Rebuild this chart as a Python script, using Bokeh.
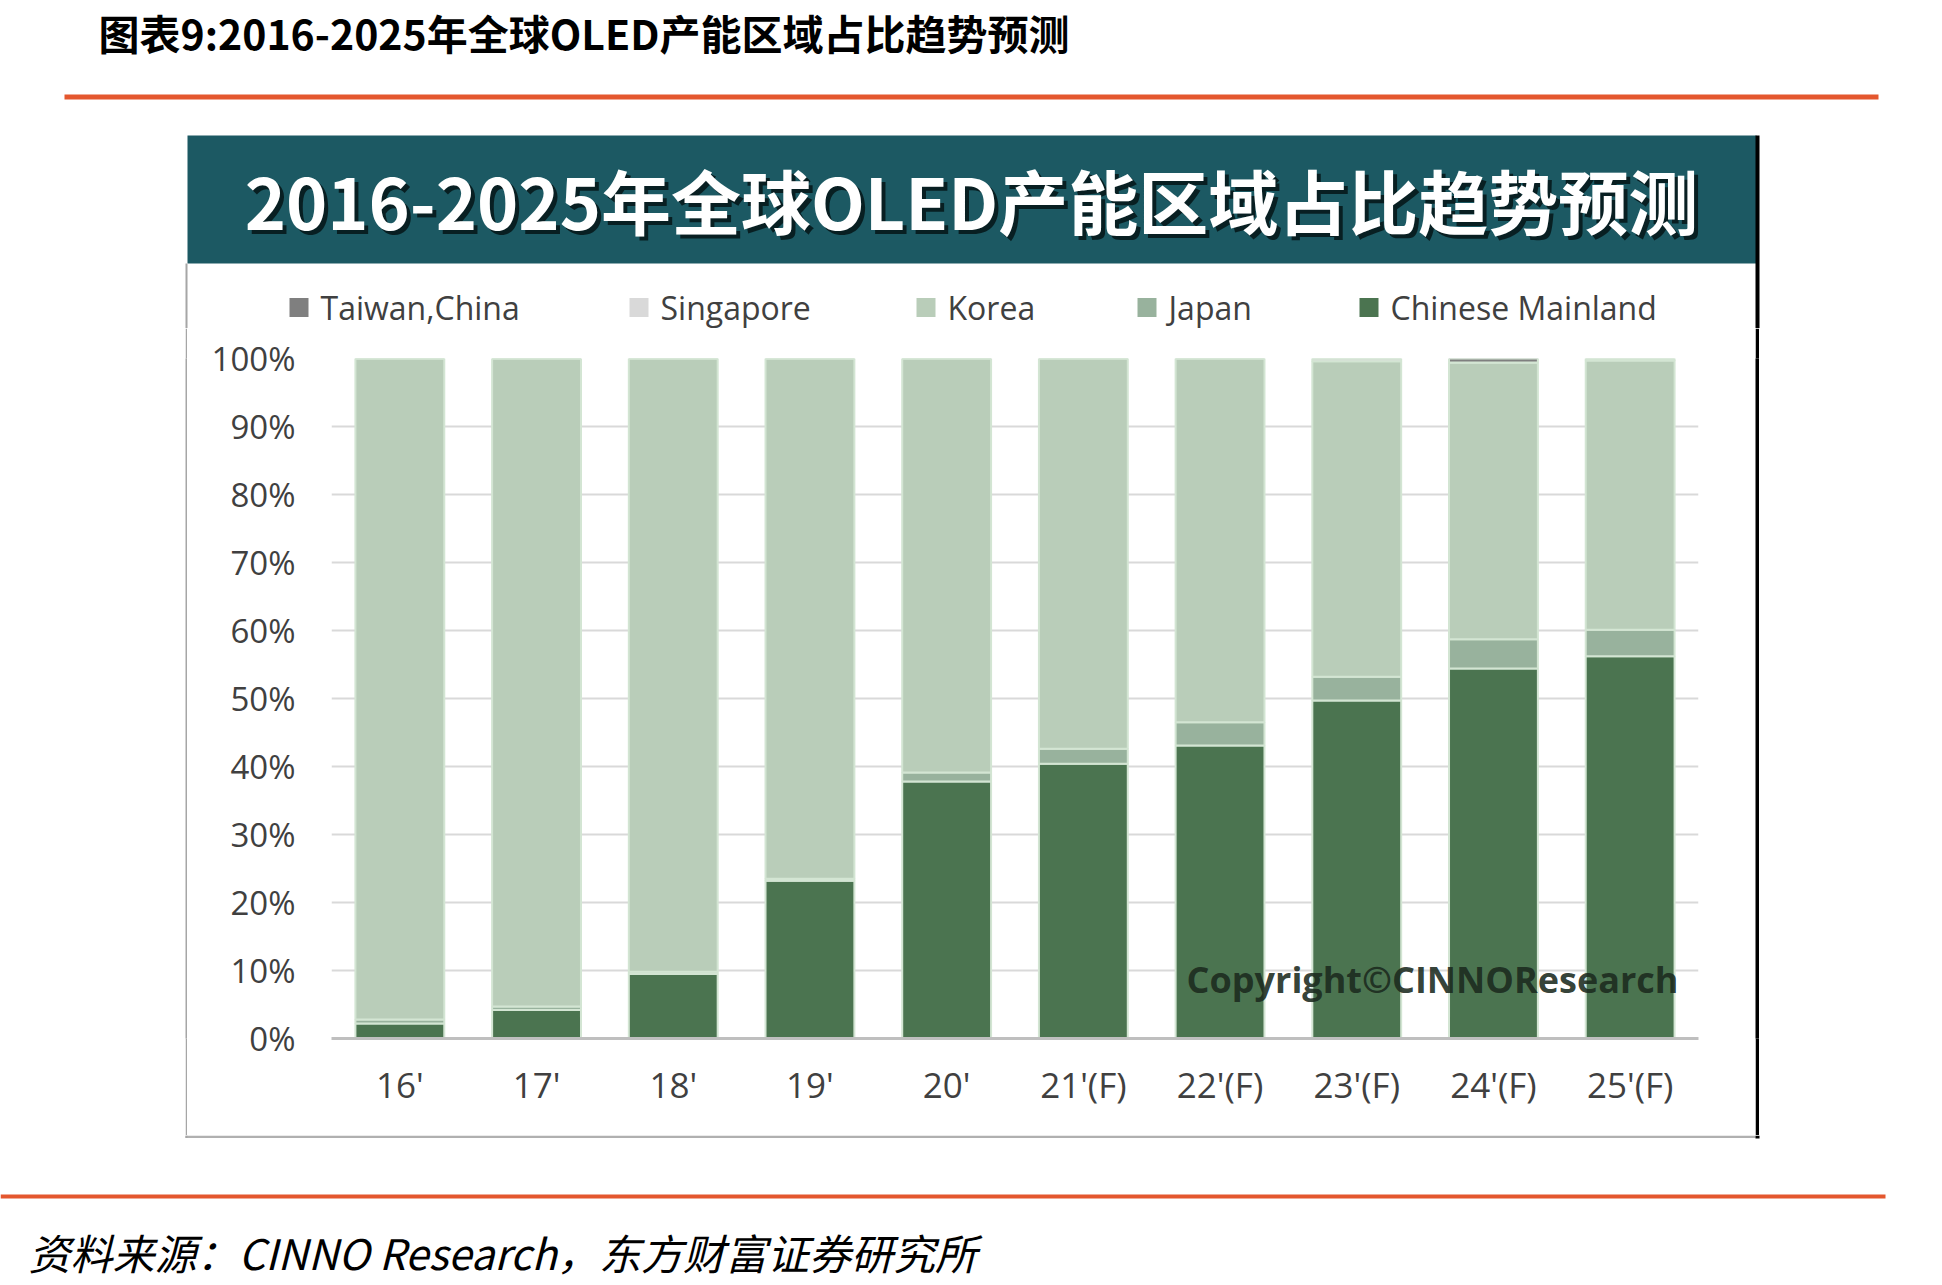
from bokeh.plotting import figure
from bokeh.models import FactorRange, Range1d, FixedTicker, Label, Spacer
from bokeh.layouts import column, row
from bokeh.core.properties import value
from bokeh.embed import file_html
from bokeh.resources import INLINE

# ---------------- data ----------------
years = ["16'", "17'", "18'", "19'", "20'", "21'(F)", "22'(F)", "23'(F)", "24'(F)", "25'(F)"]
chinese_mainland = [2.2, 4.2, 9.5, 23.2, 37.8, 40.4, 43.1, 49.7, 54.4, 56.2]
japan = [0.6, 0.5, 0.3, 0.3, 1.3, 2.2, 3.4, 3.5, 4.3, 3.9]
singapore = [0.0, 0.0, 0.0, 0.0, 0.0, 0.0, 0.0, 0.4, 0.0, 0.3]
taiwan_china = [0.0, 0.0, 0.0, 0.0, 0.0, 0.0, 0.0, 0.0, 0.6, 0.0]
korea = [round(100 - c - j - s - t, 1) for c, j, s, t in zip(chinese_mainland, japan, singapore, taiwan_china)]
series_names = ["Chinese Mainland", "Japan", "Korea", "Singapore", "Taiwan,China"]
legend_order = ["Taiwan,China", "Singapore", "Korea", "Japan", "Chinese Mainland"]
y_ticks = [0, 10, 20, 30, 40, 50, 60, 70, 80, 90, 100]
y_tick_labels = ["0%", "10%", "20%", "30%", "40%", "50%", "60%", "70%", "80%", "90%", "100%"]

page_title = "图表9:2016-2025年全球OLED产能区域占比趋势预测"
chart_title = "2016-2025年全球OLED产能区域占比趋势预测"
watermark = "Copyright©CINNOResearch"
source_note = "资料来源：CINNO Research，东方财富证券研究所"

colors = {"Chinese Mainland": "#4b7450", "Japan": "#98b29d", "Korea": "#b9cdb9",
          "Singapore": "#d9d9d9", "Taiwan,China": "#7f7f7f"}

# ---------------- layout constants (canvas px) ----------------
W, H = 1942, 1285
FL, FR, FT, FB = 331, 1698, 358, 1038      # plot frame
PL, PR, PT, PB = 187, 1755, 135, 1135      # chart panel (inside its border lines)
TOP_H = 328                                # height of the top strip
MID_H = PB - TOP_H
ORANGE = "#e4572e"
GRAY_EDGE = "#a6a6a6"


def pixfig(x0, y0, w, h):
    """A figure whose data coordinates are canvas pixels (y down)."""
    f = figure(width=w, height=h, x_range=Range1d(x0, x0 + w), y_range=Range1d(y0 + h, y0),
               output_backend="svg", toolbar_location=None, min_border=0)
    f.axis.visible = False
    f.grid.grid_line_color = None
    f.outline_line_color = None
    f.background_fill_color = "white"
    f.border_fill_color = "white"
    return f


def solid(w, h, color):
    """A plain block of one colour (used for the panel's vertical border lines)."""
    f = figure(width=w, height=h, output_backend="svg", toolbar_location=None, min_border=0)
    f.axis.visible = False
    f.grid.grid_line_color = None
    f.outline_line_color = None
    f.background_fill_color = color
    f.border_fill_color = color
    return f


# ---------------- top strip ----------------
top = pixfig(0, 0, W, TOP_H)
top.text(x=[98], y=[31], text=[page_title], text_font=value("Noto Sans CJK SC"),
         text_font_size="41px", text_font_style="bold", text_color="black",
         text_baseline="middle", text_align="left")
top.quad(left=[64], right=[1878], top=[94], bottom=[99], fill_color=ORANGE, line_color=None)
top.quad(left=[PL], right=[PR + 1], top=[PT], bottom=[263], fill_color="#1c5963", line_color=None)
cx = (PL + PR) / 2
top.text(x=[cx + 4], y=[203], text=[chart_title], text_font=value("Noto Sans CJK SC"),
         text_font_size="70px", text_font_style="bold", text_color="#081f22",
         text_baseline="middle", text_align="center")
top.text(x=[cx], y=[199], text=[chart_title], text_font=value("Noto Sans CJK SC"),
         text_font_size="70px", text_font_style="bold", text_color="white",
         text_baseline="middle", text_align="center")
# panel border lines
top.quad(left=[PL - 2], right=[PL], top=[263], bottom=[TOP_H], fill_color=GRAY_EDGE, line_color=None)
top.quad(left=[PR], right=[PR + 4], top=[PT], bottom=[TOP_H], fill_color="black", line_color=None)
# legend
legend_sq_x = [289, 629, 916, 1137, 1359]
legend_y = 307
top.quad(left=legend_sq_x, right=[v + 19 for v in legend_sq_x],
         top=[legend_y - 9.5] * 5, bottom=[legend_y + 9.5] * 5,
         fill_color=[colors[n] for n in legend_order], line_color=None)
top.text(x=[v + 31 for v in legend_sq_x], y=[legend_y] * 5, text=legend_order,
         text_font=value("Open Sans"), text_font_size="32px", text_color="#404040",
         text_baseline="middle", text_align="left")

# ---------------- chart ----------------
source = dict(years=years)
for name, vals in zip(series_names, [chinese_mainland, japan, korea, singapore, taiwan_china]):
    source[name] = vals

p = figure(width=PR - PL, height=MID_H,
           x_range=FactorRange(factors=years, range_padding=0), y_range=Range1d(0, 100),
           output_backend="svg", toolbar_location=None,
           min_border_left=FL - PL, min_border_right=PR - FR,
           min_border_top=FT - TOP_H, min_border_bottom=PB - FB)
p.outline_line_color = None
p.background_fill_color = "white"
p.border_fill_color = "white"

p.vbar_stack(series_names, x="years", width=0.65, source=source,
             color=[colors[n] for n in series_names],
             line_color="#d3e5d3", line_width=2)

p.yaxis.ticker = FixedTicker(ticks=y_ticks)
p.yaxis.major_label_overrides = {t: l for t, l in zip(y_ticks, y_tick_labels)}
p.yaxis.axis_line_color = None
p.yaxis.major_tick_line_color = None
p.yaxis.minor_tick_line_color = None
p.yaxis.major_label_standoff = 30
p.yaxis.major_label_text_font = "Open Sans"
p.yaxis.major_label_text_font_size = "33px"
p.yaxis.major_label_text_color = "#404040"

p.xaxis.axis_line_color = "#bfbfbf"
p.xaxis.axis_line_width = 3
p.xaxis.major_tick_line_color = None
p.xaxis.minor_tick_line_color = None
p.xaxis.major_label_standoff = 16
p.xaxis.major_label_text_font = "Open Sans"
p.xaxis.major_label_text_font_size = "35px"
p.xaxis.major_label_text_color = "#404040"

p.xgrid.grid_line_color = None
p.ygrid.grid_line_color = "#d9d9d9"
p.ygrid.grid_line_width = 2

p.add_layout(Label(x=1432 - FL, y=FB - 979, x_units="screen", y_units="screen",
                   text=watermark, text_font="Open Sans", text_font_size="36px",
                   text_font_style="bold", text_color="#1b2a1e", text_alpha=0.9,
                   text_align="center", text_baseline="middle"))

# ---------------- side strips ----------------
left_pad = Spacer(width=PL - 2, height=MID_H)
left_edge = solid(2, MID_H, GRAY_EDGE)
right_edge = solid(4, MID_H, "black")
right_pad = Spacer(width=W - PR - 4, height=MID_H)

# ---------------- bottom strip ----------------
bottom = pixfig(0, PB, W, H - PB)
bottom.quad(left=[PL - 2], right=[PR], top=[PB], bottom=[PB + 2.5], fill_color="#b0b0b0", line_color=None)
bottom.quad(left=[PL - 2], right=[PL], top=[PB], bottom=[PB + 2.5], fill_color=GRAY_EDGE, line_color=None)
bottom.quad(left=[PR], right=[PR + 4], top=[PB], bottom=[PB + 3], fill_color="black", line_color=None)
bottom.quad(left=[0], right=[1885], top=[1194], bottom=[1198], fill_color=ORANGE, line_color=None)
bottom.text(x=[28], y=[1251], text=[source_note], text_font=value("Noto Sans CJK SC"),
            text_font_size="42px", text_font_style="italic", text_color="black",
            text_baseline="middle", text_align="left")

layout = column(top, row(left_pad, left_edge, p, right_edge, right_pad, spacing=0), bottom, spacing=0)
open("out.html", "w").write(file_html(layout, INLINE))
